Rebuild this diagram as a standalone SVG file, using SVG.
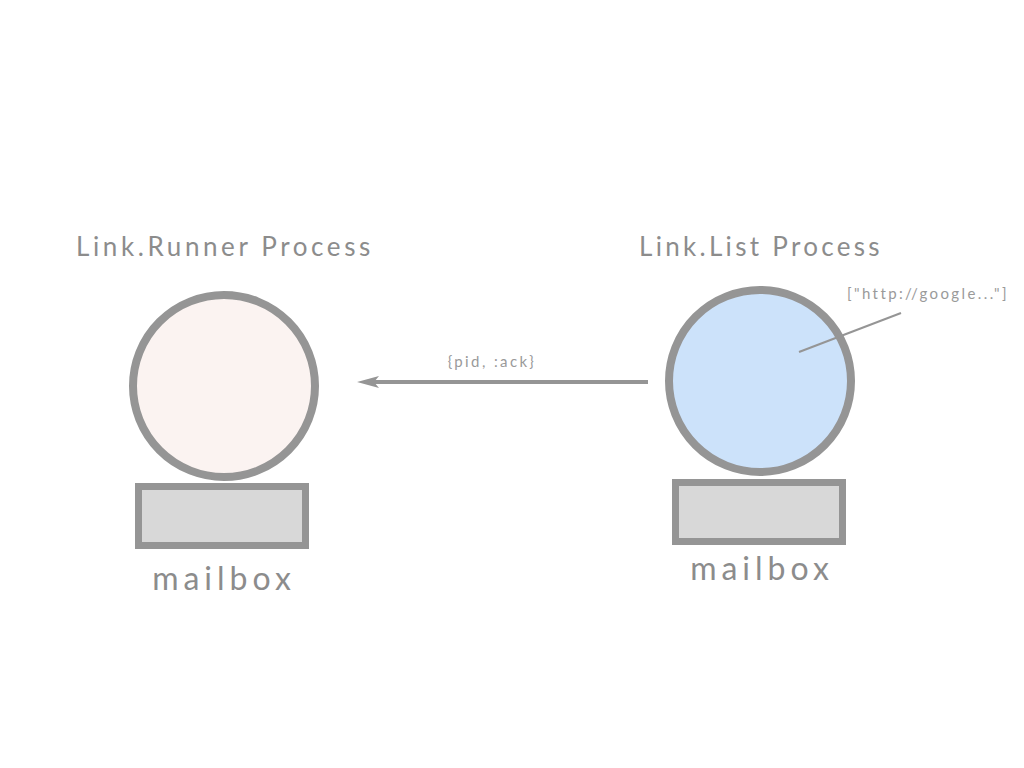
<svg xmlns="http://www.w3.org/2000/svg" width="1024" height="768" viewBox="0 0 1024 768">
<style>
.title{font-family:Lato,"Open Sans",sans-serif;font-size:26px;fill:#8c8c8c;letter-spacing:3.6px}
.mb{font-family:Lato,"Open Sans",sans-serif;font-size:32px;fill:#8c8c8c;letter-spacing:5px;text-anchor:middle}
.small{font-family:Lato,"Open Sans",sans-serif;font-size:15px;fill:#9a9a9a;letter-spacing:2.4px}
.proc{stroke:#959595;stroke-width:8}
.box{fill:#d8d8d8;stroke:#959595;stroke-width:7}
.conn{stroke:#959595;stroke-width:4}
.head{fill:#959595}
</style>
<rect width="1024" height="768" fill="#fff"/>
<g id="runner">
<text class="title" x="76" y="256">Link.Runner Process</text>
<circle class="proc" cx="224" cy="386" r="91" fill="#fbf3f1"/>
<rect class="box" x="138.5" y="486.5" width="167" height="59"/>
<text class="mb" x="224" y="590">mailbox</text>
</g>
<g id="list">
<text class="title" x="639" y="256" style="letter-spacing:3.3px">Link.List Process</text>
<circle class="proc" cx="760" cy="381" r="91" fill="#cce2fa"/>
<rect class="box" x="675.5" y="482.5" width="167" height="59"/>
<text class="mb" x="762" y="580">mailbox</text>
<line x1="799" y1="352" x2="901" y2="313" stroke="#959595" stroke-width="2"/>
<text class="small" x="847" y="299">["http://google..."]</text>
</g>
<g id="connectors">
<line class="conn" x1="648" y1="382" x2="372" y2="382"/>
<polygon class="head" points="357,382 379,376 374,382 379,388"/>
<text class="small" x="492" y="367" text-anchor="middle">{pid, :ack}</text>
</g>
</svg>
